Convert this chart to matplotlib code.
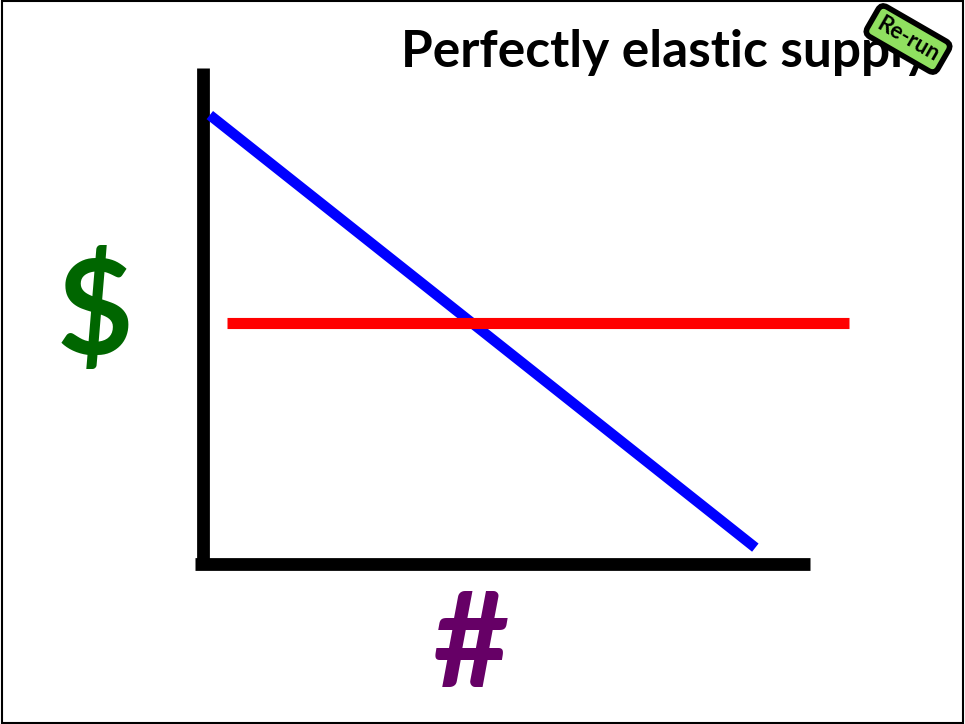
import matplotlib
matplotlib.use('Agg')
import matplotlib.pyplot as plt
import numpy as np

# demand curve (quantity, price) and perfectly elastic supply
demand_q = [0.12, 9.1]
demand_p = [9.05, 0.32]
supply_q = [0.4, 10.65]
supply_p = [4.85, 4.85]

title = 'Perfectly elastic supply'
ylabel = '$'
xlabel = '#'

fig = plt.figure(figsize=(9.65, 7.24), dpi=100)
ax = fig.add_axes([202.5/965, (724-563.5)/724, (810-202.5)/965, (563.5-68)/724])
ax.set_xlim(0, 10)
ax.set_ylim(0, 10)
ax.axis('off')

# axes drawn as thick black lines
ax.plot([0, 0], [10, -0.12], color='black', lw=9.2, solid_capstyle='butt', clip_on=False)
ax.plot([-0.12, 10], [0, 0], color='black', lw=9.2, solid_capstyle='butt', clip_on=False)

ax.plot(demand_q, demand_p, color='blue', lw=7.5, solid_capstyle='butt', clip_on=False)
ax.plot(supply_q, supply_p, color='red', lw=8, solid_capstyle='butt', clip_on=False)

fnt = 'Lato'
fig.text(95/965, 1-314/724, ylabel, color='#006600', fontsize=95, fontweight='bold',
         family=fnt, ha='center', va='center')
fig.text(471/965, 1-649/724, xlabel, color='#660066', fontsize=95, fontweight='bold',
         family=fnt, ha='center', va='center')
fig.text(666/965, 1-52/724, title, color='black', fontsize=37, fontweight='bold',
         family=fnt, ha='center', va='center', zorder=1)

# re-run badge
fig.text(908/965, 1-39/724, 'Re-run', color='black', fontsize=16, fontweight='bold',
         family=fnt, ha='center', va='center', rotation=-30, zorder=5,
         bbox=dict(boxstyle='round,pad=0.3', fc='#90e060', ec='black', lw=4))

# frame around figure
fig.patches.append(plt.Rectangle((0.002, 0.002), 0.996, 0.996, transform=fig.transFigure,
                                 fill=False, ec='black', lw=1.5))

fig.savefig('out.png', dpi=100)
